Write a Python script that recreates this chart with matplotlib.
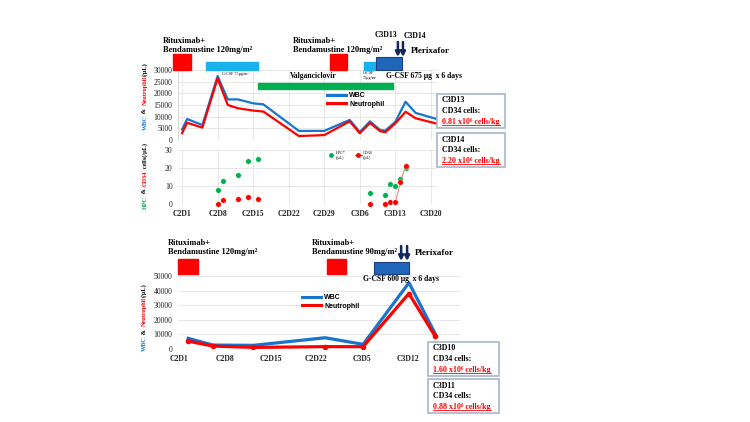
import numpy as np
import matplotlib
matplotlib.use('Agg')
import matplotlib.pyplot as plt
from matplotlib.patches import Rectangle
from matplotlib.lines import Line2D

SERIF = ['Liberation Serif', 'DejaVu Serif']
SANS = ['Liberation Sans', 'DejaVu Sans']
plt.rcParams['font.family'] = SERIF

# ---- panel A: blood counts (day 0 = C2D1) ----
day_ticks = [0, 7, 14, 21, 28, 35, 42, 49]
day_labels = ['C2D1', 'C2D8', 'C2D15', 'C2D22', 'C2D29', 'C3D6', 'C3D13', 'C3D20']
a_days = [0, 1, 4, 7, 9, 11, 14, 16, 23, 28, 33, 35, 37, 39, 40, 42, 44, 46, 50]
a_wbc = [4500, 9000, 6400, 27400, 17400, 17400, 15700, 15300, 3900, 3900,
         8600, 3400, 8000, 4300, 4000, 7800, 16400, 11600, 9100]
a_neut = [2900, 7400, 5300, 26400, 15000, 13600, 12600, 12200, 1700, 2100,
          8000, 2900, 7300, 3800, 3300, 7100, 12100, 9300, 7100]

# HPC / CD34 counts
s_days = [7, 8, 11, 13, 15, 37, 40, 41, 42, 43, 44]
s_hpc = [8, 13, 16, 24, 25, 6, 5, 11, 10, 14, 20]
s_cd34 = [0, 2, 3, 4, 3, 0, 0, 1, 1, 12, 21]

# treatment schedule (start, end) in days
a_chemo = [(-1.8, 1.8), (29.1, 32.4)]
a_gcsf_low = [(4.7, 14.9), (35.8, 38.1)]
a_gcsf_high = [(38.1, 43.4)]
a_valgan = [(14.9, 41.5)]
a_plerixafor = [42.5, 43.5]

# ---- panel B ----
b_ticks = [0, 1, 2, 3, 4, 5]
b_labels = ['C2D1', 'C2D8', 'C2D15', 'C2D22', 'C3D5', 'C3D12']
b_pos = [0.2, 0.74, 1.62, 3.19, 4.02, 5.02, 5.59]
b_wbc = [7300, 2700, 2500, 7700, 3200, 45400, 10700]
b_neut = [5400, 2000, 1100, 1600, 1600, 38000, 8900]
b_chemo = [(-0.02, 0.41), (3.23, 3.65)]
b_gcsf = [(4.26, 5.02)]
b_plerixafor = [4.85, 4.98]

boxes_a = [('C3D13', '0.81'), ('C3D14', '2.20')]
boxes_b = [('C3D10', '1.60'), ('C3D11', '0.88')]

BLUE = '#1874cd'
RED = '#ff0000'
SKY = '#19b2ee'
DARKBLUE = '#1f66b8'
GREEN = '#00b050'
NAVY = '#13275e'
GRID = '#e3e3e3'

W, H = 750, 422
fig = plt.figure(figsize=(W / 100, H / 100), dpi=100)
R = fig.canvas.get_renderer()


def ax_px(x0, y0, x1, y1):
    return fig.add_axes([x0 / W, 1 - y1 / H, (x1 - x0) / W, (y1 - y0) / H])


def ft(x, y, s, **kw):
    kw.setdefault('fontweight', 'bold')
    kw.setdefault('va', 'center')
    return fig.text(x / W, 1 - y / H, s, **kw)


def style(ax):
    for sp in ax.spines.values():
        sp.set_visible(False)
    ax.spines['left'].set_visible(True)
    ax.spines['left'].set_color('#d0d0d0')
    ax.spines['left'].set_linewidth(0.6)
    ax.grid(True, color=GRID, lw=0.6)
    ax.set_axisbelow(True)
    ax.tick_params(length=0, labelsize=5.5, colors='#222222', pad=4)


def vlabel(x, ybot, pieces, size=4.5):
    y = 1 - ybot / H
    for s, c in pieces:
        t = fig.text(x / W, y, s, rotation=90, color=c, ha='center', va='bottom',
                     fontsize=size, fontweight='bold')
        bb = t.get_window_extent(R)
        y = bb.y1 / fig.bbox.height + 0.6 / H


def result_box(x0, y0, x1, y1, day, val):
    fig.patches.append(Rectangle((x0 / W, 1 - y1 / H), (x1 - x0) / W, (y1 - y0) / H,
                                 transform=fig.transFigure, facecolor='white',
                                 edgecolor='#aab4cc', lw=1.2))
    ft(x0 + 5, y0 + 6.5, day, fontsize=5.8)
    ft(x0 + 5, y0 + 17, 'CD34 cells:', fontsize=5.8)
    t = ft(x0 + 5, y0 + 28, val + ' x10⁶ cells/kg', fontsize=5.8, color=RED)
    bb = t.get_window_extent(R)
    yl = (bb.y0 + 1.2) / fig.bbox.height
    fig.add_artist(Line2D([bb.x0 / fig.bbox.width, bb.x1 / fig.bbox.width], [yl, yl],
                          transform=fig.transFigure, color=RED, lw=0.6))


def count_legend(ax, x, y):
    hs = [Line2D([], [], color=BLUE, lw=2.2), Line2D([], [], color=RED, lw=2.2)]
    ax.legend(hs, ['WBC', 'Neutrophil'], loc='upper left', bbox_to_anchor=(x / W, 1 - y / H),
              bbox_transform=fig.transFigure, frameon=False,
              prop={'family': SANS, 'weight': 'bold', 'size': 5},
              handlelength=2.8, handletextpad=0.4, labelspacing=0.25, borderpad=0, borderaxespad=0)


def arrows(ax, xs, y0, y1):
    for d in xs:
        ax.annotate('', xy=(d, y1), xytext=(d, y0),
                    arrowprops=dict(arrowstyle='-|>', color=NAVY, lw=1.8, mutation_scale=7,
                                    shrinkA=0, shrinkB=0))


a_xlim = (-0.8, 50.2)

# counts chart A
ax1 = ax_px(178, 70, 437, 140)
ax1.plot(a_days, a_wbc, color=BLUE, lw=1.6, zorder=3)
ax1.plot(a_days, a_neut, color=RED, lw=1.6, zorder=3)
ax1.set_xlim(a_xlim)
ax1.set_ylim(0, 30000)
ax1.set_yticks(range(0, 30001, 5000))
ax1.set_xticks(day_ticks)
ax1.set_xticklabels([])
style(ax1)
count_legend(ax1, 327, 92)

# scatter chart
ax2 = ax_px(178, 150, 437, 204)
ax2.plot(s_days[6:], s_hpc[6:], color=GREEN, lw=0.5, alpha=0.35, zorder=2)
ax2.plot(s_days[6:], s_cd34[6:], color=RED, lw=0.6, alpha=0.6, zorder=2)
ax2.plot(s_days, s_hpc, 'o', color=GREEN, ms=4, mec='white', mew=0.3, clip_on=False, zorder=3)
ax2.plot(s_days, s_cd34, 'o', color=RED, ms=4, mec='white', mew=0.3, clip_on=False, zorder=3)
ax2.set_xlim(a_xlim)
ax2.set_ylim(0, 30)
ax2.set_yticks([0, 10, 20, 30])
ax2.set_xticks(day_ticks)
ax2.set_xticklabels(day_labels, fontweight='bold')
style(ax2)
ax2.spines['left'].set_visible(False)
h_hpc = Line2D([], [], color=GREEN, marker='o', ms=2.5, lw=0)
h_cd = Line2D([], [], color=RED, marker='o', ms=2.5, lw=0.6)
ax2.legend([h_hpc, h_cd], ['HPC*\n(/μL)', 'CD34\n(/μL)'], ncol=2, loc='upper left',
           bbox_to_anchor=(328 / W, 1 - 151 / H), bbox_transform=fig.transFigure,
           frameon=False, prop={'size': 3}, handlelength=1.6, handletextpad=0.3,
           columnspacing=2.2, borderpad=0, borderaxespad=0)

# treatment schedule A
ta = ax_px(178, 28, 437, 92)
ta.set_xlim(a_xlim)
ta.set_ylim(92, 28)
ta.axis('off')
ta.patch.set_alpha(0)
for s, e in a_chemo:
    ta.add_patch(Rectangle((s, 54), e - s, 16, color=RED, clip_on=False))
for s, e in a_gcsf_low:
    ta.add_patch(Rectangle((s, 62), e - s, 8, color=SKY, clip_on=False))
for s, e in a_gcsf_high:
    ta.add_patch(Rectangle((s, 57), e - s, 13, facecolor=DARKBLUE, edgecolor='#1b3f80',
                           lw=0.8, clip_on=False))
for s, e in a_valgan:
    ta.add_patch(Rectangle((s, 83), e - s, 6, color=GREEN, clip_on=False))
arrows(ta, a_plerixafor, 42, 57)

ft(163, 41, 'Rituximab+', fontsize=6)
ft(163, 50, 'Bendamustine 120mg/m²', fontsize=6)
ft(293, 41, 'Rituximab+', fontsize=6)
ft(293, 50, 'Bendamustine 120mg/m²', fontsize=6)
ft(386, 35, 'C3D13', fontsize=5.5, ha='center')
ft(415, 36, 'C3D14', fontsize=5.5, ha='center')
ft(411, 51, 'Plerixafor', fontsize=6.5)
ft(386, 76, 'G-CSF 675 μg  x 6 days', fontsize=5.5)
ft(313, 76, 'Valganciclovir', fontsize=5.5, ha='center')
ft(222, 74, 'G-CSF 75μg/m²', fontsize=3, fontweight='normal')
ft(363, 73, 'G-CSF', fontsize=3, fontweight='normal')
ft(363, 78, '75μg/m²', fontsize=3, fontweight='normal')

vlabel(145, 130, [('WBC', BLUE), (' & ', 'black'), ('Neutrophil', RED), ('(/μL)', 'black')])
vlabel(145, 209, [('HPC', GREEN), (' & ', 'black'), ('CD34', RED), (' cells(/μL)', 'black')])

for (d, v), y0 in zip(boxes_a, [94, 133]):
    result_box(437, y0, 505, y0 + 34, d, v)

# counts chart B
b_xlim = (-0.022, 6.135)
ax3 = ax_px(178, 276, 460, 349)
ax3.plot(b_pos, b_wbc, color=BLUE, lw=2.3, zorder=3)
ax3.plot(b_pos, b_neut, color=RED, lw=2.3, marker='o', ms=3, zorder=3)
ax3.set_xlim(b_xlim)
ax3.set_ylim(0, 50000)
ax3.set_yticks(range(0, 50001, 10000))
ax3.set_xticks(b_ticks)
ax3.set_xticklabels(b_labels, fontweight='bold')
style(ax3)
ax3.grid(False, axis='x')
ax3.spines['left'].set_visible(False)
count_legend(ax3, 302, 294)

tb = ax_px(178, 238, 460, 280)
tb.set_xlim(b_xlim)
tb.set_ylim(280, 238)
tb.axis('off')
tb.patch.set_alpha(0)
for s, e in b_chemo:
    tb.add_patch(Rectangle((s, 259), e - s, 15, color=RED, clip_on=False))
for s, e in b_gcsf:
    tb.add_patch(Rectangle((s, 262), e - s, 12, facecolor=DARKBLUE, edgecolor='#1b3f80',
                           lw=0.8, clip_on=False))
arrows(tb, b_plerixafor, 246, 261)

ft(168, 243, 'Rituximab+', fontsize=6)
ft(168, 252, 'Bendamustine 120mg/m²', fontsize=6)
ft(312, 243, 'Rituximab+', fontsize=6)
ft(312, 252, 'Bendamustine 90mg/m²', fontsize=6)
ft(415, 253, 'Plerixafor', fontsize=6.5)
ft(363, 279, 'G-CSF 600 μg  x 6 days', fontsize=5.5)

vlabel(144, 351, [('WBC', BLUE), (' & ', 'black'), ('Neutrophil', RED), ('(/μL)', 'black')])

for (d, v), y0 in zip(boxes_b, [342, 379]):
    result_box(428, y0, 499, y0 + 34, d, v)

fig.savefig('out.png', dpi=100)
